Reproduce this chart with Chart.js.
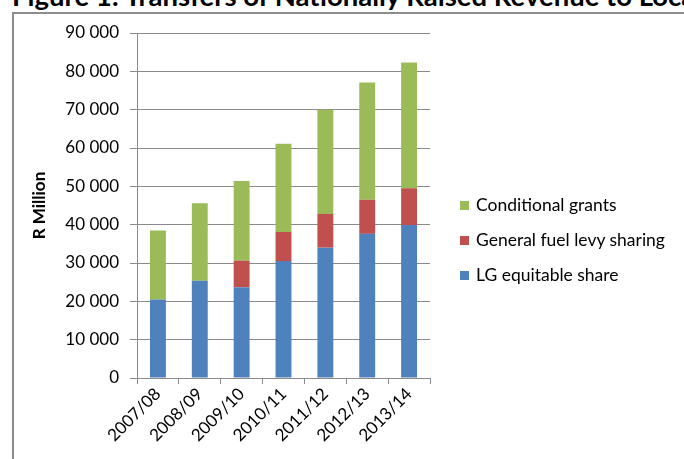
<!DOCTYPE html>
<html>
<head>
<meta charset="utf-8">
<script src="https://cdn.jsdelivr.net/npm/chart.js@4.4.1/dist/chart.umd.min.js"></script>
<style>
  body { margin: 0; background: #fff; }
  #wrap { position: relative; width: 684px; height: 459px; overflow: hidden; }
  #title { position: absolute; left: 12px; top: -20px; white-space: nowrap;
    font: bold 27.5px Lato, sans-serif; line-height: 32px; color: #000; }
  #frame { position: absolute; left: 12px; top: 12px; width: 900px; height: 600px;
    border-left: 2px solid #8c8c8c; border-top: 2px solid #8c8c8c; }
  canvas { position: absolute; left: 0; top: 0; }
  #legend { position: absolute; left: 460px; top: 194px; font: 17.5px Lato, sans-serif; color: #000; }
  #legend div { height: 35px; line-height: 22px; white-space: nowrap; }
  #legend span { display: inline-block; width: 9px; height: 9px; margin-right: 7px; vertical-align: 1px; }
</style>
</head>
<body>
<div id="wrap">
  <div id="title">Figure 1: Transfers of Nationally Raised Revenue to Local Government</div>
  <div id="frame"></div>
  <canvas id="myChart" width="684" height="459"></canvas>
  <div id="legend"></div>
</div>
<script>
// data (R million)
const years = ["2007/08", "2008/09", "2009/10", "2010/11", "2011/12", "2012/13", "2013/14"];
const equitableShare = [20500, 25400, 23700, 30500, 34000, 37600, 39900];
const fuelLevy = [0, 0, 6900, 7600, 8800, 8900, 9600];
const condGrants = [18000, 20200, 20800, 23000, 27200, 30600, 32800];
const yTickLabels = ["0", "10 000", "20 000", "30 000", "40 000", "50 000", "60 000", "70 000", "80 000", "90 000"];

const seriesNames = ["LG equitable share", "General fuel levy sharing", "Conditional grants"];
const seriesColors = ["#4f81bd", "#c0504d", "#9bbb59"];

const font = { family: "Lato, sans-serif", size: 17 };
const gridGray = "#8a8a8a";

const ctx = document.getElementById("myChart");
new Chart(ctx, {
  type: "bar",
  data: {
    labels: years,
    datasets: [equitableShare, fuelLevy, condGrants].map(function (vals, i) {
      return {
        label: seriesNames[i],
        data: vals,
        backgroundColor: seriesColors[i],
        borderWidth: 0,
        categoryPercentage: 1,
        barPercentage: 0.38,
      };
    }),
  },
  options: {
    responsive: false,
    animation: false,
    layout: { padding: { left: 0, top: 33, right: 254, bottom: 0 } },
    plugins: { legend: { display: false }, tooltip: { enabled: false } },
    scales: {
      x: {
        stacked: true,
        grid: { offset: true, drawOnChartArea: false, color: gridGray, tickLength: 6 },
        border: { color: gridGray },
        ticks: { color: "#000", font: font, minRotation: 45, maxRotation: 45, padding: 0 },
        afterFit: function (scale) { scale.height = 81; },
      },
      y: {
        stacked: true,
        min: 0,
        max: 90000,
        ticks: {
          stepSize: 10000,
          color: "#000",
          font: font,
          padding: 11,
          callback: function (v, i) { return yTickLabels[i]; },
        },
        grid: { color: gridGray, tickLength: 7 },
        border: { color: gridGray },
        title: { display: true, text: "R Million", color: "#000",
          font: { family: "Lato, sans-serif", size: 17, weight: "bold" }, padding: { top: 29 } },
        afterFit: function (scale) { scale.width = 137; },
      },
    },
  },
});

// legend, top to bottom in reverse stacking order
const legend = document.getElementById("legend");
for (let i = seriesNames.length - 1; i >= 0; i--) {
  const row = document.createElement("div");
  row.innerHTML = '<span style="background:' + seriesColors[i] + '"></span>' + seriesNames[i];
  legend.appendChild(row);
}
</script>
</body>
</html>
